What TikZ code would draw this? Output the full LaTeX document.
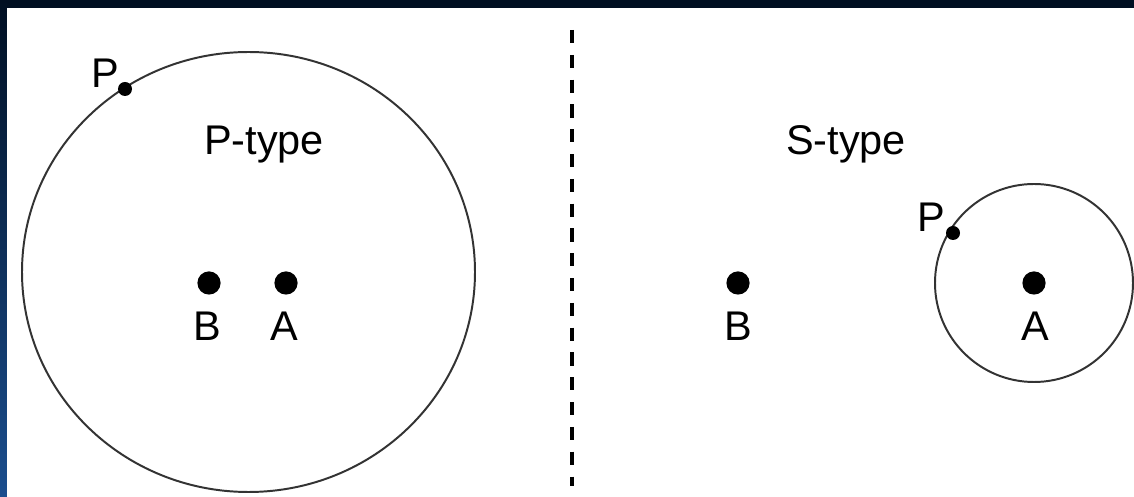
\documentclass[tikz,border=0pt]{standalone}
\usepackage{fontspec}
\setmainfont{Liberation Sans}
\definecolor{navy}{HTML}{000F22}
\definecolor{deepblue}{HTML}{1B4E8E}
\begin{document}
\begin{tikzpicture}[x=0.025cm, y=-0.025cm,
    star/.style={circle, fill=black, inner sep=0pt, minimum size=0.58cm},
    planet/.style={circle, fill=black, inner sep=0pt, minimum size=0.35cm},
    lbl/.style={anchor=base, inner sep=0pt, font=\fontsize{29.5}{35}\selectfont}]
    % Frame
    \useasboundingbox (0,0) rectangle (1134,497);
    \fill[navy] (0,0) rectangle (1134,8);
    \shade[top color=navy, bottom color=deepblue] (0,0) rectangle (7,497);
    \fill[white] (7,8) rectangle (1134,497);

    % Divider
    \draw[line width=2.8pt, dash pattern=on 0.33cm off 0.29cm] (572,30) -- (572,486);

    % P-type orbit
    \draw[line width=1.4pt, black!80] (248.5,272) ellipse [x radius=226.5, y radius=220];
    \node[lbl] (ptype) at (264,155) {P-type};
    \node[star] (b1) at (209,283) {};
    \node[star] (a1) at (286,283) {};
    \node[lbl] (b1lbl) at (207,341) {B};
    \node[lbl] (a1lbl) at (284,341) {A};
    \node[planet] (p1) at (125,89) {};
    \node[lbl] (p1lbl) at (105,88) {P};

    % S-type orbit
    \draw[line width=1.4pt, black!80] (1034,283) circle [radius=99];
    \node[lbl] (stype) at (846,155) {S-type};
    \node[star] (b2) at (738,283) {};
    \node[star] (a2) at (1034,283) {};
    \node[lbl] (b2lbl) at (738,341) {B};
    \node[lbl] (a2lbl) at (1035,341) {A};
    \node[planet] (p2) at (953,233) {};
    \node[lbl] (p2lbl) at (931,232) {P};
\end{tikzpicture}
\end{document}
